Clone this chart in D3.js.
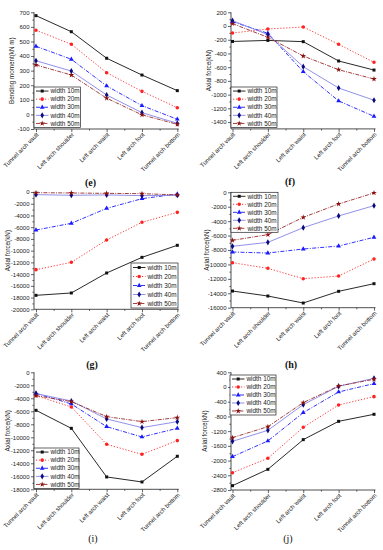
<!DOCTYPE html>
<html><head><meta charset="utf-8">
<script src="https://cdn.jsdelivr.net/npm/d3@7"></script>
<style>body{margin:0;background:#fff}svg{display:block}</style>
</head><body>
<svg id="c" width="383" height="550"></svg>
<script>
// ---------- data ----------
const categories = ["Tunnel arch vault","Left arch shoulder","Left arch waist","Left arch foot","Tunnel arch bottom"];
const seriesNames = ["width 10m","width 20m","width 30m","width 40m","width 50m"];

// (e) bending moment (kN m)
const eW10 = [677,567,385,270,163];
const eW20 = [577,481,286,158,46];
const eW30 = [467,378,195,60,-33];
const eW40 = [368,297,133,12,-61];
const eW50 = [339,270,111,-3,-68];
const eTicks = [700,600,500,400,300,200,100,0,-100];

// (f) axial force (kN)
const fW10 = [-225,-210,-228,-510,-642];
const fW20 = [-102,-44,-14,-267,-529];
const fW30 = [63,-106,-666,-1092,-1317];
const fW40 = [78,-125,-593,-904,-1082];
const fW50 = [35,-165,-437,-637,-773];
const fTicks = [200,0,-200,-400,-600,-800,-1000,-1200,-1400];

// (g)
const gW10 = [-17620,-17220,-13810,-11140,-9090];
const gW20 = [-13240,-11990,-8180,-5170,-3470];
const gW30 = [-6480,-5340,-2790,-1140,-340];
const gW40 = [-450,-560,-500,-620,-560];
const gW50 = [-110,-170,-230,-280,-500];
const gTicks = [0,-2000,-4000,-6000,-8000,-10000,-12000,-14000,-16000,-18000,-20000];

// (h)
const hW10 = [-13690,-14380,-15350,-13730,-12670];
const hW20 = [-9760,-10540,-11980,-11610,-9250];
const hW30 = [-8280,-8420,-7860,-7450,-6240];
const hW40 = [-7490,-6940,-4900,-3280,-1850];
const hW50 = [-6660,-5870,-3470,-1620,-90];
const hTicks = [0,-2000,-4000,-6000,-8000,-10000,-12000,-14000,-16000];

// (i)
const iW10 = [-5850,-8620,-16100,-16870,-12920];
const iW20 = [-3590,-5330,-11080,-12620,-10510];
const iW30 = [-3230,-4870,-8360,-9950,-8620];
const iW40 = [-3280,-4410,-7180,-8510,-7590];
const iW50 = [-3590,-4510,-6820,-7590,-6970];
const iTicks = [0,-2000,-4000,-6000,-8000,-10000,-12000,-14000,-16000,-18000];

// (j)
const jW10 = [-2682,-2238,-1431,-933,-742];
const jW20 = [-2329,-1939,-1096,-488,-262];
const jW30 = [-1893,-1467,-697,-135,92];
const jW40 = [-1477,-1177,-479,19,237];
const jW50 = [-1377,-1078,-425,28,210];
const jTicks = [400,0,-400,-800,-1200,-1600,-2000,-2400,-2800];

// ---------- styles ----------
const styles = [
  {line:"#111", dash:null, mark:"#111", sym:d3.symbolSquare, size:9},
  {line:"#ff2020", dash:"1.2,1.8", mark:"#ff2020", sym:d3.symbolCircle, size:10},
  {line:"#1a1aff", dash:"4,1.5,1,1.5", mark:"#1a1aff", sym:d3.symbolTriangle, size:10},
  {line:"#8484e6", dash:null, mark:"#0a0a80", sym:d3.symbolDiamond, size:11},
  {line:"#9a2a2a", dash:"4,1.2,1,1.2", mark:"#8a1010", sym:d3.symbolStar, size:10}
];

const FONT = "'Liberation Sans', Arial, sans-serif";
const svg = d3.select("#c");

function drawPanel(p) {
  const g = svg.append("g");
  const xi = d3.scaleLinear().domain([0, 4]).range([p.x0, p.x4]);
  const x = d3.scalePoint().domain(categories).range([p.x0, p.x4]);
  const y = d3.scaleLinear().domain(p.yDom).range(p.yRange);
  const yBot = p.yRange[0], yTop = p.yRange[1];

  // y axis
  const ya = g.append("g").attr("transform", `translate(${p.ax},0)`)
    .call(d3.axisLeft(y).tickValues(p.ticks).tickSize(3).tickSizeOuter(0).tickPadding(1.5)
      .tickFormat(d => String(d)));
  ya.select(".domain").remove();
  const step = Math.abs(p.ticks[0] - p.ticks[1]);
  const minors = p.ticks.map(t => t - step / 2).filter(t => t > p.yDom[0] && t < p.yDom[1]);
  const ym = g.append("g").attr("transform", `translate(${p.ax},0)`)
    .call(d3.axisLeft(y).tickValues(minors).tickSize(1.6).tickSizeOuter(0).tickFormat(""));
  ym.select(".domain").remove();
  g.append("line").attr("x1", p.ax).attr("x2", p.ax).attr("y1", yTop).attr("y2", yBot)
    .attr("stroke", "#222").attr("stroke-width", 0.8);

  // x axis
  const xa = g.append("g").attr("transform", `translate(0,${yBot})`)
    .call(d3.axisBottom(x).tickSize(3).tickSizeOuter(0).tickFormat(""));
  xa.select(".domain").remove();
  const xm = g.append("g").attr("transform", `translate(0,${yBot})`)
    .call(d3.axisBottom(xi).tickValues([0.5, 1.5, 2.5, 3.5]).tickSize(1.6).tickSizeOuter(0).tickFormat(""));
  xm.select(".domain").remove();
  g.append("line").attr("x1", p.ax).attr("x2", p.x4 + 1.5).attr("y1", yBot).attr("y2", yBot)
    .attr("stroke", "#222").attr("stroke-width", 0.8);
  g.selectAll(".tick line").attr("stroke", "#222").attr("stroke-width", 0.7);
  g.selectAll(".tick text").attr("font-family", FONT).attr("font-size", 6).attr("fill", "#222");

  // category labels
  g.selectAll("text.cat").data(categories).join("text").attr("class", "cat")
    .attr("transform", d => `translate(${x(d) + 1.5},${yBot + 4.5}) rotate(-45)`)
    .attr("text-anchor", "end").attr("dy", "0.35em")
    .attr("font-family", FONT).attr("font-size", 6.1).attr("fill", "#222").text(d => d);

  // y label
  g.append("text").attr("transform", `translate(${p.ylx},${(yTop + yBot) / 2}) rotate(-90)`)
    .attr("text-anchor", "middle").attr("dy", "0.35em")
    .attr("font-family", FONT).attr("font-size", 6.3).attr("fill", "#222").text(p.ylabel);

  // series
  const line = d3.line().x((d, i) => xi(i)).y(d => y(d));
  p.data.forEach((vals, s) => {
    const st = styles[s];
    g.append("path").attr("d", line(vals)).attr("fill", "none")
      .attr("stroke", st.line).attr("stroke-width", 0.9)
      .attr("stroke-dasharray", st.dash);
    g.selectAll(null).data(vals).join("path")
      .attr("transform", (d, i) => `translate(${xi(i)},${y(d)})`)
      .attr("d", d3.symbol().type(st.sym).size(st.size)).attr("fill", st.mark);
  });

  // legend
  const L = p.leg;
  const lg = g.append("g").attr("transform", `translate(${L[0]},${L[1]})`);
  lg.append("rect").attr("width", L[2]).attr("height", L[3]).attr("fill", "#fff")
    .attr("stroke", "#222").attr("stroke-width", 0.7);
  const rowH = L[3] / 5;
  seriesNames.forEach((nm, s) => {
    const st = styles[s];
    const cy = rowH * (s + 0.5);
    lg.append("line").attr("x1", 2).attr("x2", 14.5).attr("y1", cy).attr("y2", cy)
      .attr("stroke", st.line).attr("stroke-width", 0.9).attr("stroke-dasharray", st.dash);
    lg.append("path").attr("transform", `translate(8.2,${cy})`)
      .attr("d", d3.symbol().type(st.sym).size(st.size)).attr("fill", st.mark);
    lg.append("text").attr("x", 16.5).attr("y", cy).attr("dy", "0.35em")
      .attr("font-family", FONT).attr("font-size", 6.4).attr("fill", "#222").text(nm);
  });

  // caption
  svg.append("text").attr("x", p.cap[0]).attr("y", p.cap[1]).attr("text-anchor", "middle")
    .attr("dy", "0.35em").attr("font-family", "'Liberation Serif', 'Times New Roman', serif")
    .attr("font-size", 10).attr("font-weight", p.capBold ? "bold" : "normal").attr("fill", "#111")
    .text(p.caption);
}

const LEFT = {ax: 34, x0: 36, x4: 177.3};
const RIGHT = {ax: 231, x0: 232.5, x4: 374};

drawPanel({...LEFT, yDom: [-100, 700], yRange: [129, 12.3], ticks: eTicks,
  data: [eW10, eW20, eW30, eW40, eW50], ylabel: "Bending moment(kN m)", ylx: 12,
  leg: [34, 87, 46.5, 40.5], caption: "(e)", cap: [90.5, 182], capBold: true});
drawPanel({...RIGHT, yDom: [-1500, 200], yRange: [128.9, 12.3], ticks: fTicks,
  data: [fW10, fW20, fW30, fW40, fW50], ylabel: "Axial force(kN)", ylx: 209,
  leg: [231, 87, 46, 40.5], caption: "(f)", cap: [290, 181], capBold: true});
drawPanel({...LEFT, yDom: [-20000, 0], yRange: [309.3, 192], ticks: gTicks,
  data: [gW10, gW20, gW30, gW40, gW50], ylabel: "Axial force(kN)", ylx: 7.5,
  leg: [131, 263, 47, 45], caption: "(g)", cap: [92, 364], capBold: true});
drawPanel({...RIGHT, yDom: [-16000, 0], yRange: [307.7, 192.3], ticks: hTicks,
  data: [hW10, hW20, hW30, hW40, hW50], ylabel: "Axial force(kN)", ylx: 207,
  leg: [231, 192.3, 47, 40], caption: "(h)", cap: [291, 364], capBold: true});
drawPanel({...LEFT, yDom: [-18000, 0], yRange: [489.3, 372.3], ticks: iTicks,
  data: [iW10, iW20, iW30, iW40, iW50], ylabel: "Axial force(kN)", ylx: 7.5,
  leg: [34, 448, 45, 40.5], caption: "(i)", cap: [93, 538], capBold: false});
drawPanel({...RIGHT, yDom: [-2800, 400], yRange: [490, 372.3], ticks: jTicks,
  data: [jW10, jW20, jW30, jW40, jW50], ylabel: "Axial force(kN)", ylx: 205,
  leg: [230, 375, 46, 40], caption: "(j)", cap: [288, 538], capBold: false});
</script>
</body></html>
